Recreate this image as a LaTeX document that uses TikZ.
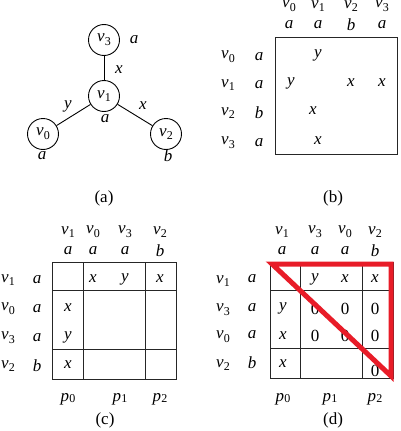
\documentclass[tikz,border=0pt]{standalone}
\usepackage{fontspec}
\setmainfont{Liberation Serif}
\newcommand\vx[1]{\textit{v}\kern0.02em\raisebox{-0.22em}{\fontsize{12}{13}\selectfont #1}}
\newcommand\px[1]{\textit{p}\kern0.02em\raisebox{-0.05em}{\fontsize{12}{13}\selectfont #1}}
\begin{document}
\begin{tikzpicture}[x=1pt,y=-1pt,
  every node/.style={font=\fontsize{17}{19}\selectfont, inner sep=0pt},
  vert/.style={draw, circle, minimum size=31pt, line width=0.9pt},
  edge/.style={line width=0.9pt},
  grid/.style={line width=1pt, draw=black!85},
  lab/.style={font=\fontsize{17}{19}\selectfont\itshape},
  redtri/.style={draw={rgb,255:red,232;green,28;blue,40}, line width=5pt, line join=miter}]
\useasboundingbox (0,0) rectangle (400,431);
% ---------- (a)
\node[vert] (a3) at (104,40) {\vx{3}};
\node[vert] (a1) at (104,96) {\vx{1}};
\node[vert] (a0) at (43,134) {\vx{0}};
\node[vert] (a2) at (166,134) {\vx{2}};
\draw[edge] (a3) -- (a1);
\draw[edge] (a1) -- (a0);
\draw[edge] (a1) -- (a2);
\node[lab] (la3) at (134,40) {a};
\node[lab] (lex) at (119,70) {x};
\node[lab] (ley) at (68,106) {y};
\node[lab] (lex2) at (143,106) {x};
\node[lab] (la1) at (105,119) {a};
\node[lab] (la0) at (42,156) {a};
\node[lab] (lb2) at (168,156) {b};
\node (capa) at (104,198) {(a)};
% ---------- (b)
\draw[grid] (275,37) rectangle (397,154);
\foreach \i/\x/\l in {0/289/a,1/318/a,2/351/b,3/382/a}{
  \node (bh\i) at (\x,6) {\vx{\i}};
  \node[lab] (bl\i) at (\x,25) {\l};
}
\foreach \i/\y/\l in {0/57/a,1/85/a,2/113/b,3/143/a}{
  \node (br\i) at (228,\y) {\vx{\i}};
  \node[lab] (brl\i) at (259,\y) {\l};
}
\node[lab] (b01) at (318,55) {y};
\node[lab] (b10) at (291,83) {y};
\node[lab] (b12) at (351,83) {x};
\node[lab] (b13) at (382,83) {x};
\node[lab] (b21) at (313,111) {x};
\node[lab] (b31) at (318,141) {x};
\node (capb) at (333,198) {(b)};
% ---------- (c)
\draw[grid] (52,262) rectangle (176,379);
\draw[grid] (83,262) -- (83,379);
\draw[grid] (145,262) -- (145,379);
\draw[grid] (52,290) -- (176,290);
\draw[grid] (52,349) -- (176,349);
\foreach \n/\i/\x/\l in {1/1/68/a,2/0/93/a,3/3/125/a,4/2/160/b}{
  \node (ch\n) at (\x,232) {\vx{\i}};
  \node[lab] (cl\n) at (\x,251) {\l};
}
\foreach \n/\i/\y/\l in {1/1/280/a,2/0/309/a,3/3/338/a,4/2/366/b}{
  \node (cr\n) at (8,\y) {\vx{\i}};
  \node[lab] (crl\n) at (37,\y) {\l};
}
\node[lab] (c12) at (93,279) {x};
\node[lab] (c13) at (125,279) {y};
\node[lab] (c14) at (160,279) {x};
\node[lab] (c21) at (68,308) {x};
\node[lab] (c31) at (68,337) {y};
\node[lab] (c41) at (68,365) {x};
\node (cp0) at (68,399) {\px{0}};
\node (cp1) at (120,399) {\px{1}};
\node (cp2) at (160,399) {\px{2}};
\node (capc) at (105,420) {(c)};
% ---------- (d)
\draw[grid] (270,262) rectangle (393,378);
\draw[grid] (300,262) -- (300,378);
\draw[grid] (362,262) -- (362,378);
\draw[grid] (270,290) -- (393,290);
\draw[grid] (270,348) -- (393,348);
\foreach \n/\i/\x/\l in {1/1/282/a,2/3/315/a,3/0/345/a,4/2/375/b}{
  \node (dh\n) at (\x,232) {\vx{\i}};
  \node[lab] (dl\n) at (\x,251) {\l};
}
\foreach \n/\i/\y/\l in {1/1/281/a,2/3/310/a,3/0/337/a,4/2/365/b}{
  \node (dr\n) at (223,\y) {\vx{\i}};
  \node[lab] (drl\n) at (252,\y-2) {\l};
}
\node[lab] (d12) at (315,279) {y};
\node[lab] (d13) at (345,279) {x};
\node[lab] (d14) at (375,279) {x};
\node[lab] (d21) at (283,308) {y};
\node (d22) at (315,309) {0};
\node (d23) at (345,309) {0};
\node (d24) at (375,309) {0};
\node[lab] (d31) at (283,336) {x};
\node (d32) at (315,336) {0};
\node (d33) at (345,336) {0};
\node (d34) at (375,336) {0};
\node[lab] (d41) at (283,364) {x};
\node (d44) at (375,371) {0};
\node (dp0) at (283,399) {\px{0}};
\node (dp1) at (330,399) {\px{1}};
\node (dp2) at (375,399) {\px{2}};
\node (capd) at (333,420) {(d)};
\coordinate (t1) at (272,264);
\coordinate (t2) at (391,264);
\coordinate (t3) at (391,376);
\draw[redtri] (t1) -- (t2) -- (t3) -- cycle;
\end{tikzpicture}
\end{document}
